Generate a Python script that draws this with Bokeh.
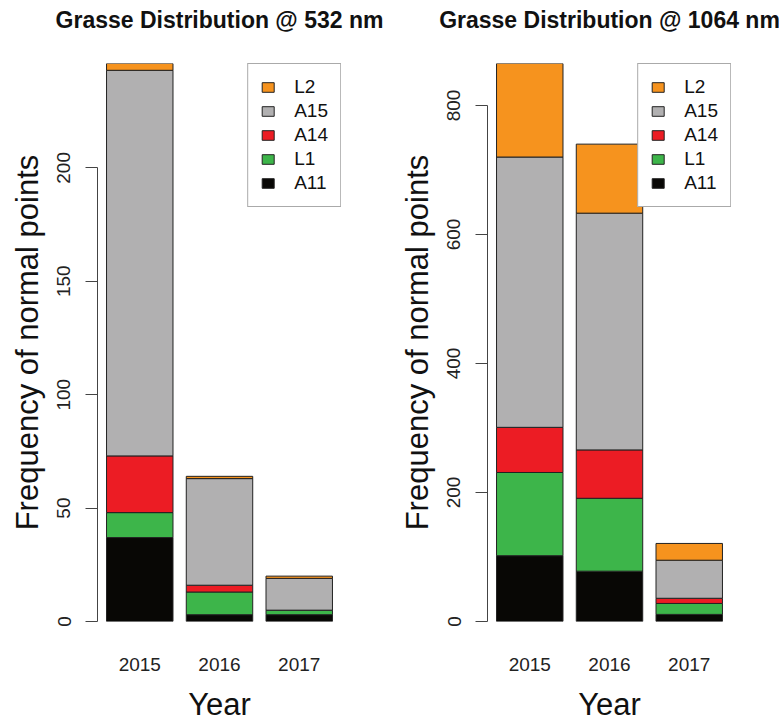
from bokeh.plotting import figure
from bokeh.layouts import row
from bokeh.models import (Range1d, FixedTicker, Legend, LegendItem,
                          ColumnDataSource, Title)
from bokeh.embed import file_html
from bokeh.resources import INLINE

years = ["2015", "2016", "2017"]
series = ["A11", "L1", "A14", "A15", "L2"]
colors = ["#080705", "#3DB54A", "#EC1C24", "#B1B0B1", "#F6931E"]

# Grasse @ 532 nm
a11_532 = [37, 3, 3]
l1_532 = [11, 10, 2]
a14_532 = [25, 3, 0]
a15_532 = [170, 47, 14]
l2_532 = [3, 1, 1]
yticks_532 = [0, 50, 100, 150, 200]

# Grasse @ 1064 nm
a11_1064 = [102, 78, 11]
l1_1064 = [129, 113, 17]
a14_1064 = [70, 75, 8]
a15_1064 = [419, 367, 59]
l2_1064 = [145, 107, 26]
yticks_1064 = [0, 200, 400, 600, 800]

FONT = "Liberation Sans"


def make_panel(title, cols, yticks, left_border, right_border):
    n = len(years)
    space, width = 0.2, 1.0
    centers = [space + width / 2 + i * (space + width) for i in range(n)]
    lo, hi = space, n * (space + width)
    pad = 0.04 * (hi - lo)
    totals = [sum(v) for v in zip(*cols)]
    data = {"x": centers}
    for name, vals in zip(series, cols):
        data[name] = vals
    src = ColumnDataSource(data)

    p = figure(frame_width=244, frame_height=558, output_backend="svg",
               toolbar_location=None, x_range=Range1d(lo - pad, hi + pad),
               y_range=Range1d(0, max(totals)), title=None,
               min_border_left=left_border, min_border_right=right_border,
               min_border_top=0, min_border_bottom=0)

    # spacer between title and plot area (closest to the frame)
    p.add_layout(Title(text=" ", text_font_size="10px", standoff=14,
                       text_color="white"), "above")
    p.add_layout(Title(text=title, align="center", text_font=FONT,
                       text_font_size="23px", text_font_style="bold",
                       text_color="#111111", standoff=8), "above")

    rs = p.vbar_stack(series, x="x", width=width, source=src, color=colors,
                      line_color="#222222", line_width=1)

    p.grid.visible = False
    p.outline_line_color = None
    p.background_fill_color = "white"
    p.border_fill_color = "white"

    ya = p.yaxis[0]
    ya.ticker = FixedTicker(ticks=yticks)
    ya.bounds = (yticks[0], yticks[-1])
    ya.major_label_orientation = "vertical"
    ya.major_label_text_font = FONT
    ya.major_label_text_font_size = "19px"
    ya.major_label_text_color = "#222222"
    ya.major_tick_out = 12
    ya.major_tick_in = 0
    ya.minor_tick_out = 0
    ya.minor_tick_in = 0
    ya.major_label_standoff = 15
    ya.axis_line_color = "#444444"
    ya.major_tick_line_color = "#444444"
    ya.axis_label = "Frequency of normal points"
    ya.axis_label_text_font = FONT
    ya.axis_label_text_font_size = "31px"
    ya.axis_label_text_font_style = "normal"
    ya.axis_label_text_color = "#111111"
    ya.axis_label_standoff = 10

    xa = p.xaxis[0]
    xa.ticker = FixedTicker(ticks=centers)
    xa.major_label_overrides = {c: y for c, y in zip(centers, years)}
    xa.axis_line_color = None
    xa.major_tick_line_color = None
    xa.minor_tick_line_color = None
    xa.major_label_standoff = 30
    xa.major_label_text_font = FONT
    xa.major_label_text_font_size = "19px"
    xa.major_label_text_color = "#222222"
    xa.axis_label = "Year"
    xa.axis_label_text_font = FONT
    xa.axis_label_text_font_size = "31px"
    xa.axis_label_text_font_style = "normal"
    xa.axis_label_text_color = "#111111"
    xa.axis_label_standoff = 13

    items = [LegendItem(label=name, renderers=[r]) for name, r in zip(series, rs)][::-1]
    leg = Legend(items=items, location="top_right", margin=0, padding=12,
                 spacing=2, glyph_width=15, glyph_height=12, label_height=20,
                 label_standoff=19, label_text_font=FONT,
                 label_text_font_size="19px", label_text_color="#111111",
                 border_line_color="#555555", border_line_width=1,
                 background_fill_alpha=1.0)
    p.add_layout(leg, "center")
    return p


p1 = make_panel("Grasse Distribution @ 532 nm",
                [a11_532, l1_532, a14_532, a15_532, l2_532], yticks_532, 97, 55)
p2 = make_panel("Grasse Distribution @ 1064 nm",
                [a11_1064, l1_1064, a14_1064, a15_1064, l2_1064], yticks_1064, 90, 48)

layout = row(p1, p2)
open("out.html", "w").write(file_html(layout, INLINE))
